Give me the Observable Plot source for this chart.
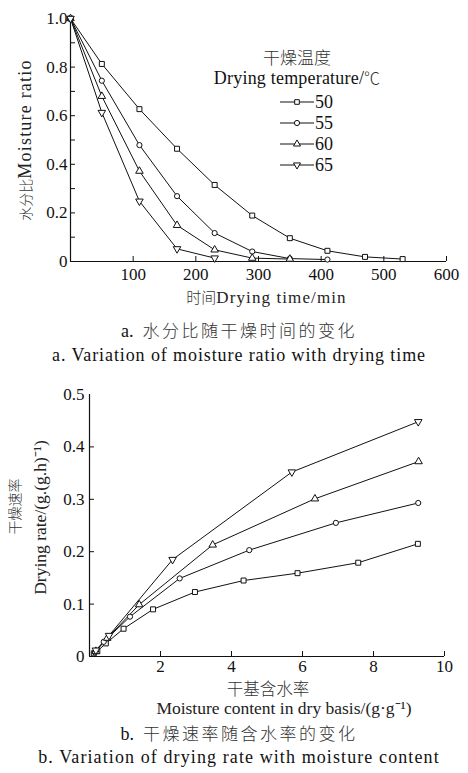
<!DOCTYPE html>
<html>
<head>
<meta charset="utf-8">
<script src="https://cdn.jsdelivr.net/npm/d3@7"></script>
<script src="https://cdn.jsdelivr.net/npm/@observablehq/plot@0.6"></script>
<style>
  html, body { margin: 0; padding: 0; background: #fff; }
  body { width: 468px; height: 773px; position: relative; overflow: hidden;
         font-family: "Liberation Serif", serif; color: #111; }
  .abs { position: absolute; }
  .cap { position: absolute; left: 0; width: 478px; text-align: center; font-size: 18px; line-height: 1; white-space: nowrap; }
  .cjk { font-family: "Noto Sans CJK SC", sans-serif; font-weight: 300; color: #333; }
  #legend { position: absolute; left: 200px; top: 46px; width: 200px; font-size: 18px; }
  #legend .row { position: absolute; left: 80px; height: 20px; display: flex; align-items: center; }
  #legend svg { display: block; }
</style>
</head>
<body>
<div id="chartA" class="abs" style="left:0;top:0"></div>
<div id="legend"></div>
<div class="cap" style="top:321px"><span>a.&nbsp;&nbsp;</span><span class="cjk" style="font-size:17px;letter-spacing:2.5px">水分比随干燥时间的变化</span></div>
<div class="cap" style="top:346px;letter-spacing:0.9px">a. Variation of moisture ratio with drying time</div>
<div id="chartB" class="abs" style="left:0;top:378px"></div>
<div class="cap" style="top:724px"><span>b.&nbsp;&nbsp;</span><span class="cjk" style="font-size:17px;letter-spacing:2.5px">干燥速率随含水率的变化</span></div>
<div class="cap" style="top:748px;letter-spacing:1.1px">b. Variation of drying rate with moisture content</div>
<script>
// ---------- Data: chart a (moisture ratio vs drying time) ----------
const seriesNames = ["50", "55", "60", "65"];
const time50 = [0, 50, 110, 170, 230, 290, 350, 410, 470, 530];
const mr50   = [1.0, 0.813, 0.627, 0.464, 0.315, 0.189, 0.096, 0.044, 0.019, 0.010];
const time55 = [0, 50, 110, 170, 230, 290, 350, 410];
const mr55   = [1.0, 0.744, 0.479, 0.269, 0.117, 0.041, 0.012, 0.008];
const time60 = [0, 50, 110, 170, 230, 290, 350];
const mr60   = [1.0, 0.680, 0.372, 0.149, 0.048, 0.014, 0.010];
const time65 = [0, 50, 110, 170, 230];
const mr65   = [1.0, 0.613, 0.248, 0.052, 0.014];

// ---------- Data: chart b (drying rate vs moisture content) ----------
const mc50 = [0.12, 0.22, 0.46, 0.96, 1.79, 2.97, 4.34, 5.86, 7.57, 9.25];
const dr50 = [0.006, 0.010, 0.025, 0.053, 0.090, 0.123, 0.145, 0.159, 0.179, 0.215];
const mc55 = [0.15, 0.40, 1.14, 2.54, 4.50, 6.94, 9.26];
const dr55 = [0.008, 0.028, 0.076, 0.149, 0.203, 0.255, 0.293];
const mc60 = [0.18, 0.50, 1.40, 3.47, 6.35, 9.27];
const dr60 = [0.010, 0.035, 0.099, 0.213, 0.301, 0.372];
const mc65 = [0.18, 0.55, 2.34, 5.70, 9.26];
const dr65 = [0.012, 0.040, 0.185, 0.352, 0.448];

// ---------- Ticks & labels ----------
const xTicksA = [100, 200, 300, 400, 500, 600];
const yLabelTicksA = [0, 0.2, 0.4, 0.6, 0.8, 1.0];
const yMinorTicksA = [0.1, 0.2, 0.3, 0.4, 0.5, 0.6, 0.7, 0.8, 0.9];
const xTicksB = [2, 4, 6, 8, 10];
const yTicksB = [0, 0.1, 0.2, 0.3, 0.4, 0.5];
const yMinorTicksB = [0.1, 0.2, 0.3, 0.4];
const xLabelA = "时间Drying time/min";
const yLabelA = "水分比Moisture ratio";
const xLabelB1 = "干基含水率";
const xLabelB2 = "Moisture content in dry basis/(g·g⁻¹)";
const yLabelB1 = "干燥速率";
const yLabelB2 = "Drying rate/(g.(g.h)⁻¹)";
const legendTitle1 = "干燥温度";
const legendTitle2 = "Drying temperature/";
const legendUnit = "℃";

// custom downward triangle symbol
const triangleDown = {
  draw(context, size) {
    const y = -Math.sqrt(size / (Math.sqrt(3) * 3));
    context.moveTo(0, -y * 2);
    context.lineTo(-Math.sqrt(3) * y, y);
    context.lineTo(Math.sqrt(3) * y, y);
    context.closePath();
  }
};
const symbols = ["square", "circle", "triangle", triangleDown];

const zip = (xs, ys) => xs.map((x, i) => ({x, y: ys[i]}));
const seriesA = [zip(time50, mr50), zip(time55, mr55), zip(time60, mr60), zip(time65, mr65)];
const seriesB = [zip(mc50, dr50), zip(mc55, dr55), zip(mc60, dr60), zip(mc65, dr65)];

const fontFam = '"Liberation Serif", serif';
const fmt1 = d => d === 0 ? "0" : d.toFixed(1);

function seriesMarks(series) {
  const marks = [];
  series.forEach((data) => {
    marks.push(Plot.line(data, {x: "x", y: "y", stroke: "#111", strokeWidth: 1}));
  });
  series.forEach((data, i) => {
    marks.push(Plot.dot(data, {x: "x", y: "y", symbol: symbols[i], r: i === 1 ? 2.6 : 2.8,
      fill: "white", stroke: "#111", strokeWidth: 1}));
  });
  return marks;
}

// split a mixed CJK / Latin label into tspans with explicit fonts
const CJK = /[\u3000-\u9fff\u2103]/;
function styleMixed(root, label, {cjkSize, cjkSpacing = 0, latinSpacing = 0}) {
  const ns = "http://www.w3.org/2000/svg";
  root.querySelectorAll("text, tspan").forEach(el => {
    if (el.children.length || el.textContent !== label) return;
    const parts = label.match(/[\u3000-\u9fff\u2103]+|[^\u3000-\u9fff\u2103]+/g);
    el.textContent = "";
    parts.forEach(p => {
      const t = document.createElementNS(ns, "tspan");
      t.textContent = p;
      if (CJK.test(p)) {
        t.setAttribute("font-family", '"Noto Sans CJK SC"');
        t.setAttribute("font-weight", "300");
        t.setAttribute("fill", "#333");
        if (cjkSize) t.setAttribute("font-size", cjkSize);
        if (cjkSpacing) t.setAttribute("letter-spacing", cjkSpacing);
      } else {
        t.setAttribute("font-family", '"Liberation Serif"');
        if (latinSpacing) t.setAttribute("letter-spacing", latinSpacing);
      }
      el.appendChild(t);
    });
  });
}

const axisStyle = {fontFamily: fontFam, fontSize: "17px", color: "#111", background: "white", overflow: "visible"};

// ---------- Chart a ----------
const chartA = Plot.plot({
  width: 468, height: 306,
  marginLeft: 70, marginRight: 22, marginTop: 18, marginBottom: 45,
  style: axisStyle,
  x: {domain: [0, 600]},
  y: {domain: [0, 1]},
  marks: [
    Plot.axisX({ticks: xTicksA, tickSize: -5, tickFormat: () => "", label: null, stroke: "#111"}),
    Plot.axisX({ticks: xTicksA, tickSize: 0, tickPadding: 6, label: null, fill: "#111"}),
    Plot.axisY({ticks: yMinorTicksA, tickSize: -5, tickFormat: () => "", label: null, stroke: "#111"}),
    Plot.axisY({ticks: yLabelTicksA, tickSize: 0, tickPadding: 3, tickFormat: fmt1, label: null, fill: "#111"}),
    Plot.ruleX([0], {stroke: "#111", strokeWidth: 1.2}),
    Plot.ruleY([0], {stroke: "#111", strokeWidth: 1.2}),
    ...seriesMarks(seriesA),
    Plot.text([yLabelA], {frameAnchor: "left", rotate: -90, textAnchor: "middle", lineAnchor: "middle",
      dx: -45, dy: 0, fontSize: 18, fill: "#222"}),
    Plot.text([xLabelA], {frameAnchor: "bottom", textAnchor: "middle", lineAnchor: "middle",
      dx: 8, dy: 36, fontSize: 17, fill: "#222"})
  ]
});
styleMixed(chartA, yLabelA, {cjkSize: 14, latinSpacing: 1.2});
styleMixed(chartA, xLabelA, {cjkSize: 15, latinSpacing: 1.1});
document.getElementById("chartA").appendChild(chartA);

// ---------- Legend (chart a) ----------
const legend = document.getElementById("legend");
legend.innerHTML =
  `<div class="cjk" style="position:absolute;left:0;width:194px;top:2px;text-align:center;font-size:17px;line-height:1">${legendTitle1}</div>` +
  `<div style="position:absolute;left:0;width:194px;text-align:center;top:23px;white-space:nowrap;line-height:1;font-size:18px;letter-spacing:0.2px">${legendTitle2}<span class="cjk" style="font-size:16px;letter-spacing:0">${legendUnit}</span></div>`;
seriesNames.forEach((name, i) => {
  const row = document.createElement("div");
  row.className = "row";
  row.style.top = (46 + i * 21) + "px";
  const svg = d3.create("svg").attr("width", 34).attr("height", 20);
  svg.append("line").attr("x1", 0).attr("x2", 34).attr("y1", 10).attr("y2", 10)
    .attr("stroke", "#111").attr("stroke-width", 1);
  const sym = typeof symbols[i] === "string"
    ? {square: d3.symbolSquare, circle: d3.symbolCircle, triangle: d3.symbolTriangle}[symbols[i]]
    : symbols[i];
  svg.append("path").attr("d", d3.symbol(sym, Math.PI * 2.6 * 2.6)())
    .attr("transform", "translate(17,10)").attr("fill", "white").attr("stroke", "#111");
  row.appendChild(svg.node());
  const t = document.createElement("span");
  t.textContent = name;
  t.style.marginLeft = "1px";
  row.appendChild(t);
  legend.appendChild(row);
});

// ---------- Chart b ----------
const chartB = Plot.plot({
  width: 468, height: 340,
  marginLeft: 89, marginRight: 24, marginTop: 16, marginBottom: 62,
  style: axisStyle,
  x: {domain: [0, 10]},
  y: {domain: [0, 0.5]},
  marks: [
    Plot.axisX({ticks: xTicksB, tickSize: -5, tickFormat: () => "", label: null, stroke: "#111"}),
    Plot.axisX({ticks: xTicksB, tickSize: 0, tickPadding: 3, label: null, fill: "#111"}),
    Plot.axisY({ticks: yMinorTicksB, tickSize: -5, tickFormat: () => "", label: null, stroke: "#111"}),
    Plot.axisY({ticks: yTicksB, tickSize: 0, tickPadding: 5, tickFormat: fmt1, label: null, fill: "#111"}),
    Plot.ruleX([0], {stroke: "#111", strokeWidth: 1.2}),
    Plot.ruleY([0], {stroke: "#111", strokeWidth: 1.2}),
    ...seriesMarks(seriesB),
    Plot.text([yLabelB1], {frameAnchor: "left", rotate: -90, textAnchor: "middle", lineAnchor: "middle",
      dx: -74, dy: -19, fontSize: 14, fontFamily: "Noto Sans CJK SC", fontWeight: 300, fill: "#333"}),
    Plot.text([yLabelB2], {frameAnchor: "left", rotate: -90, textAnchor: "middle", lineAnchor: "middle",
      dx: -49, dy: -8, fontSize: 17.5, fill: "#222"}),
    Plot.text([xLabelB1], {frameAnchor: "bottom", textAnchor: "middle", lineAnchor: "middle",
      dx: 1, dy: 33, fontSize: 16.5, fontFamily: "Noto Sans CJK SC", fontWeight: 300, fill: "#333",
      style: "letter-spacing:1.5px"}),
    Plot.text([xLabelB2], {frameAnchor: "bottom", textAnchor: "middle", lineAnchor: "middle",
      dx: 17, dy: 52, fontSize: 17.5, fill: "#222"})
  ]
});
document.getElementById("chartB").appendChild(chartB);
</script>
</body>
</html>
